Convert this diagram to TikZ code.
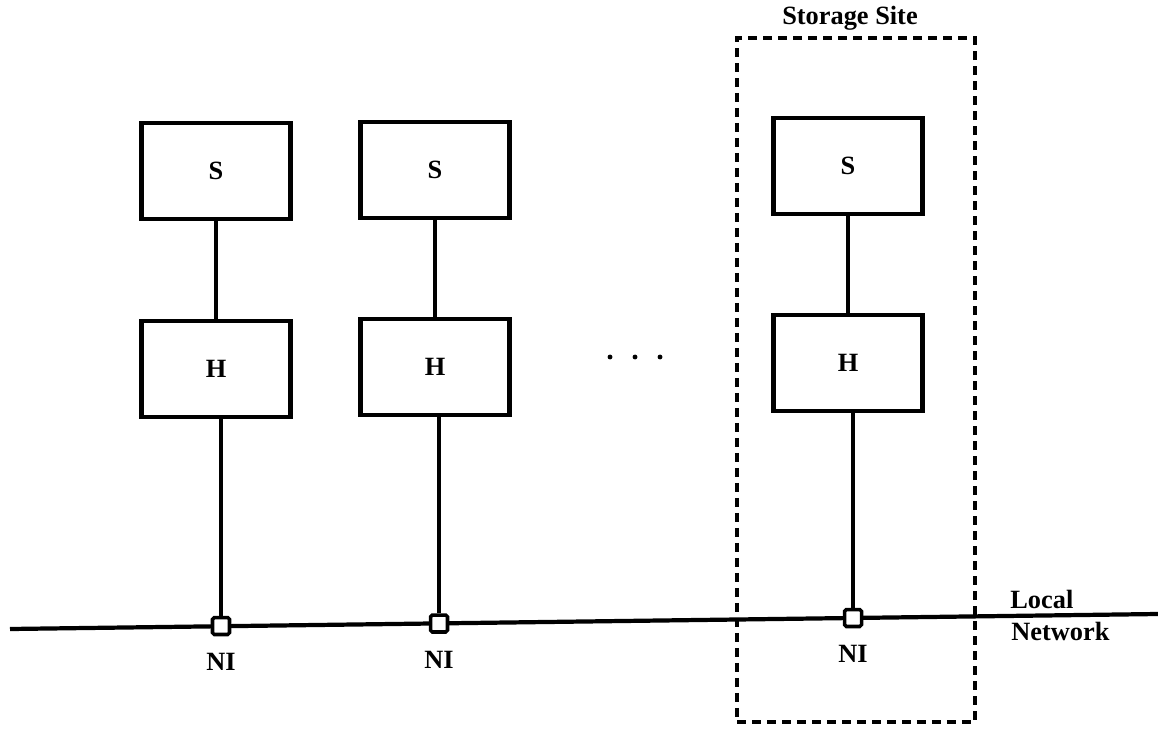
\documentclass[tikz,border=0pt]{standalone}
\usepackage{fontspec}
\setmainfont{Liberation Serif}
\usetikzlibrary{positioning}

\begin{document}
\begin{tikzpicture}[x=0.02cm,y=-0.02cm,
  unit/.style={rectangle,draw,line width=2.4pt,minimum width=2.98cm,minimum height=1.92cm,inner sep=0pt,font=\fontsize{15}{16}\selectfont\bfseries},
  niBox/.style={rectangle,draw,line width=2pt,fill=white,minimum size=0.34cm,inner sep=0pt,rounded corners=1pt},
  wire/.style={line width=2pt},
  siteBox/.style={rectangle,draw,line width=2pt,dash pattern=on 0.18cm off 0.12cm,minimum width=4.76cm,minimum height=13.68cm,inner sep=0pt},
  lbl/.style={font=\fontsize{15}{15.5}\selectfont\bfseries,inner sep=0pt}
]
\useasboundingbox (0,0) rectangle (1158,729);
% local network
\coordinate (netL) at (10,629);
\coordinate (netR) at (1158,614);
\draw[line width=2.4pt] (netL) -- (netR);
% hosts with their storage
\node[unit] (s1) at (216,171) {S};
\node[unit] (h1) at (216,369) {H};
\node[unit] (s2) at (435,170) {S};
\node[unit] (h2) at (435,367) {H};
\node[unit] (s3) at (848,166) {S};
\node[unit] (h3) at (848,363) {H};
% network interfaces
\node[niBox] (n1) at (221,626) {};
\node[niBox] (n2) at (439,623.5) {};
\node[niBox] (n3) at (853,618) {};
\node[lbl,below=0.34cm of n1] (l1) {NI};
\node[lbl,below=0.34cm of n2] (l2) {NI};
\node[lbl,below=0.34cm of n3] (l3) {NI};
\draw[wire] (s1) -- (h1);
\draw[wire] (s2) -- (h2);
\draw[wire] (s3) -- (h3);
\draw[wire] (n1) -- (n1 |- h1.south);
\draw[wire] (n2) -- (n2 |- h2.south);
\draw[wire] (n3) -- (n3 |- h3.south);
% more hosts
\foreach \x in {610,635,660}
  \fill (\x,357) circle (1.4pt);
% storage site
\node[siteBox] (site) at (856,380) {};
\node[lbl] (siteLbl) at (850,18) {Storage Site};
\node[lbl,anchor=west] (local) at (1010,599) {Local};
\node[lbl,anchor=west] (net) at (1011,631) {Network};
\end{tikzpicture}
\end{document}
